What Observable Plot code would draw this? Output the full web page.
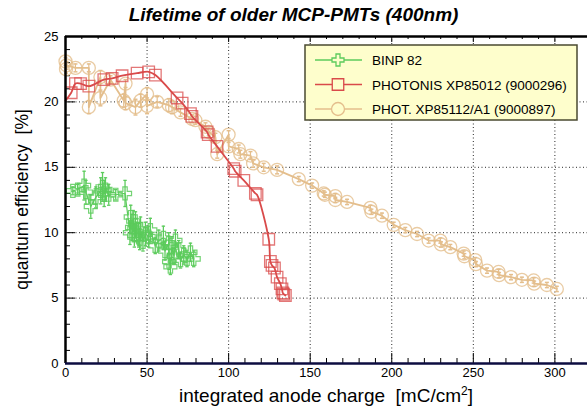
<!DOCTYPE html>
<html><head><meta charset="utf-8">
<script src="https://cdn.jsdelivr.net/npm/d3@7"></script>
<script src="https://cdn.jsdelivr.net/npm/@observablehq/plot@0.6"></script>
<style>body{margin:0;background:#fff}svg{display:block}</style>
</head><body><div id="chart"></div>
<script>
const titleText = "Lifetime of older MCP-PMTs (400nm)";
const xTitle = "integrated anode charge  [mC/cm";
const yTitle = "quantum efficiency  [%]";
const seriesNames = ["BINP 82", "PHOTONIS XP85012 (9000296)", "PHOT. XP85112/A1 (9000897)"];
const seriesColors = ["#5ccb5c", "#d94a4a", "#e4be8c"];

const xMajor = [0, 50, 100, 150, 200, 250, 300];
const xMinor = [10,20,30,40,60,70,80,90,110,120,130,140,160,170,180,190,210,220,230,240,260,270,280,290,310];
const yMajor = [0, 5, 10, 15, 20, 25];
const yMinor = [1,2,3,4,6,7,8,9,11,12,13,14,16,17,18,19,21,22,23,24];

const binpX = [4.5,7.5,11.4,12.5,15.5,18.6,21.6,22.7,23.7,24.5,26.5,30.8,36.5,39.5,40.0,40.8,41.5,42.2,42.9,43.5,44.9,45.5,46.0,47.5,49.0,51.0,52.0,55.0,57.2,60.0,61.0,63.3,63.5,64.3,65.3,66.5,67.4,69.4,70.5,72.5,74.5,76.6,78.6];
const binpY = [13.2,13.3,13.6,13.1,12.0,12.7,13.2,13.5,13.0,13.3,12.9,12.9,13.0,10.0,11.2,10.4,10.9,9.8,10.6,10.1,9.8,9.5,10.3,9.3,9.9,9.7,10.2,9.0,9.4,9.6,8.6,9.2,7.8,7.4,8.9,8.2,9.4,8.7,7.9,8.3,8.0,8.5,8.0];
const binpErr = [0.3,0.4,1.1,0.9,0.9,0.8,1.0,1.1,1.0,0.9,0.8,0.4,1.0,0.9,0.9,1.0,0.8,0.9,1.0,0.7,0.9,0.8,0.9,0.7,0.9,0.8,0.9,0.6,0.8,0.9,0.7,0.8,0.6,0.6,0.8,0.6,0.8,0.7,0.6,0.7,0.6,0.7,0.6];

const photX = [0,3.5,6.1,9.2,14.3,23.5,28.6,34.7,43.9,51.0,55.1,68.4,71.5,76.6,77.5,86.8,87.5,92.9,103.1,104.0,109.3,116.4,117.4,124.6,125.6,126.6,128.1,129.7,131.7,132.7,133.2,133.8,134.8];
const photY = [20.1,20.7,21.4,21.4,21.2,21.7,21.8,22.0,22.2,22.3,22.05,20.3,19.9,19.1,18.9,17.7,17.5,16.6,14.9,14.7,14.0,13.0,12.9,9.5,7.8,7.5,7.3,6.6,6.1,5.7,5.4,5.3,5.2];

const a1X = [0,0.3,0.6,6.1,14.3,14.3,21.4,21.4,27.6,35.7,36.8,36.8,42.9,46.0,50.0,50.0,56.2,63.3,65.3,70.5,77.6,79.6,85.8,87.8,91.9,93.0,100,100,106.2,107.2,113.4,115,121.5,129.7,143,151.2,158.3,159,165.4,165.4,172.6,186.9,187.5,194,201.2,208.3,215.5,222.6,229.8,230.2,235.9,244.1,244.5,251.2,251.6,258.4,265.5,265.8,273.1,279.8,287,287.3,295.1,301.2];
const a1Y = [23.1,22.5,22.8,22.6,22.6,19.6,21.9,20.3,21.7,20.1,21.4,19.9,19.6,20.1,20.6,19.7,20.0,19.75,19.6,19.2,18.7,18.6,18.1,17.7,17.3,16.0,17.5,16.6,16.4,16.0,15.9,15.3,15.0,14.8,14.1,13.6,13.0,12.9,12.8,12.5,12.35,11.9,11.6,11.3,10.6,10.2,9.9,9.4,9.4,9.1,8.9,8.4,8.2,7.9,7.6,7.1,7.0,6.75,6.6,6.4,6.35,6.1,6.0,5.7];
const a1Err = [0.3,0.3,0.3,0.3,0.3,0.5,0.5,0.6,0.3,0.5,0.3,0.5,0.6,0.5,0.5,0.6,0.4,0.5,0.5,0.3,0.3,0.3,0.3,0.3,0.3,0.3,0.3,0.3,0.3,0.3,0.3,0.3,0.3,0.3,0.2,0.2,0.2,0.2,0.2,0.2,0.2,0.2,0.2,0.2,0.2,0.2,0.2,0.2,0.2,0.2,0.2,0.2,0.2,0.2,0.2,0.2,0.2,0.2,0.2,0.2,0.2,0.2,0.2,0.2];

const binp = binpX.map((x,i)=>({x, y: binpY[i], e: binpErr[i]}));
const phot = photX.map((x,i)=>({x, y: photY[i]}));
const a1 = a1X.map((x,i)=>({x, y: a1Y[i], e: a1Err[i]}));

const openCross = {
  draw(ctx, size) {
    const r = Math.sqrt(size / Math.PI), w = r / 3;
    ctx.moveTo(-w, -r); ctx.lineTo(w, -r); ctx.lineTo(w, -w); ctx.lineTo(r, -w);
    ctx.lineTo(r, w); ctx.lineTo(w, w); ctx.lineTo(w, r); ctx.lineTo(-w, r);
    ctx.lineTo(-w, w); ctx.lineTo(-r, w); ctx.lineTo(-r, -w); ctx.lineTo(-w, -w); ctx.closePath();
  }
};
const hdash = { draw(ctx, size) { const r = Math.sqrt(size / Math.PI); ctx.moveTo(-r, 0); ctx.lineTo(r, 0); } };

const W = 587, H = 409, mL = 65, mR = 0, mT = 36, mB = 46;
const plotH = H - mT - mB, plotW = W - mL - mR;

const chart = Plot.plot({
  width: W, height: H,
  marginLeft: mL, marginRight: mR, marginTop: mT, marginBottom: mB,
  style: {fontFamily: "'Liberation Sans', Arial, sans-serif", fontSize: "13px", background: "#fff", color: "#000"},
  x: {domain: [0, 320]},
  y: {domain: [0, 25]},
  marks: [
    Plot.gridX(xMajor.filter(v => v > 0), {stroke: "#000", strokeOpacity: 0.85, strokeDasharray: "1,2.5"}),
    Plot.gridY(yMajor.filter(v => v > 0 && v < 25), {stroke: "#000", strokeOpacity: 0.85, strokeDasharray: "1,2.5"}),
    Plot.tickX(xMajor, {x: d => d, insetTop: plotH - 10, stroke: "#000"}),
    Plot.tickX(xMinor, {x: d => d, insetTop: plotH - 5, stroke: "#000"}),
    Plot.tickX(xMajor, {x: d => d, insetBottom: plotH - 6, stroke: "#000"}),
    Plot.tickX(xMinor, {x: d => d, insetBottom: plotH - 3, stroke: "#000"}),
    Plot.tickY(yMajor, {y: d => d, insetRight: plotW - 10, stroke: "#000"}),
    Plot.tickY(yMinor, {y: d => d, insetRight: plotW - 5, stroke: "#000"}),
    Plot.ruleX(a1, {x: "x", y1: d => d.y - d.e, y2: d => d.y + d.e, stroke: seriesColors[2], strokeWidth: 1.2}),
    Plot.dot(a1, {x: "x", y: d => d.y - d.e, symbol: hdash, r: 2, stroke: seriesColors[2]}),
    Plot.dot(a1, {x: "x", y: d => d.y + d.e, symbol: hdash, r: 2, stroke: seriesColors[2]}),
    Plot.line(a1, {x: "x", y: "y", stroke: seriesColors[2], strokeWidth: 1.8}),
    Plot.dot(a1, {x: "x", y: "y", r: 6.5, stroke: seriesColors[2], strokeWidth: 1.3, strokeOpacity: 0.8}),
    Plot.line(phot, {x: "x", y: "y", stroke: seriesColors[1], strokeWidth: 1.8, curve: "catmull-rom"}),
    Plot.dot(phot.filter(d => d.x > 0), {x: "x", y: "y", symbol: "square", r: 6.5, stroke: seriesColors[1], strokeWidth: 1.3, strokeOpacity: 0.75}),
    Plot.ruleX(binp, {x: "x", y1: d => d.y - d.e, y2: d => d.y + d.e, stroke: seriesColors[0], strokeWidth: 1.3}),
    Plot.dot(binp, {x: "x", y: d => d.y - d.e, symbol: hdash, r: 1.7, stroke: seriesColors[0], strokeWidth: 1.3}),
    Plot.dot(binp, {x: "x", y: d => d.y + d.e, symbol: hdash, r: 1.7, stroke: seriesColors[0], strokeWidth: 1.3}),
    Plot.line(binp, {x: "x", y: "y", stroke: seriesColors[0], strokeWidth: 1.2}),
    Plot.dot(binp, {x: "x", y: "y", symbol: openCross, r: 6.5, stroke: seriesColors[0], strokeWidth: 1.2, strokeOpacity: 0.85}),
    Plot.ruleX([0], {stroke: "#000", strokeWidth: 2.5}),
    Plot.ruleY([25], {stroke: "#000", strokeWidth: 2.5}),
    Plot.ruleY([0], {stroke: "#0c0c40", strokeWidth: 2.5}),
    Plot.axisX(xMajor, {tickSize: 0, tickPadding: 4, fontSize: 13, label: null}),
    Plot.axisY(yMajor, {tickSize: 0, tickPadding: 7, fontSize: 13, label: null})
  ]
});
document.getElementById("chart").appendChild(chart);

const svg = d3.select(chart);
svg.append("text").attr("x", W/2).attr("y", 21).attr("text-anchor", "middle")
  .style("font", "italic bold 19px 'Liberation Sans', Arial, sans-serif").text(titleText);
const xt = svg.append("text").attr("x", mL + plotW/2).attr("y", 402).attr("text-anchor", "middle")
  .style("font", "19px 'Liberation Sans', Arial, sans-serif");
xt.append("tspan").text(xTitle);
xt.append("tspan").attr("dy", -7).style("font-size", "12px").text("2");
xt.append("tspan").attr("dy", 7).text("]");
svg.append("text").attr("transform", `translate(28,${mT + plotH/2}) rotate(-90)`).attr("text-anchor", "middle")
  .style("font", "17.5px 'Liberation Sans', Arial, sans-serif").text(yTitle);

const lg = svg.append("g");
lg.append("rect").attr("x", 305).attr("y", 45).attr("width", 272).attr("height", 75)
  .attr("fill", "#fefecc").attr("stroke", "#4a4a30").attr("stroke-width", 1.5);
const legendSymbols = [d3.symbol(openCross, Math.PI*36), d3.symbol(d3.symbolSquare, Math.PI*42), d3.symbol(d3.symbolCircle, Math.PI*42)];
seriesNames.forEach((name, i) => {
  const y = 60 + i * 24.5;
  lg.append("line").attr("x1", 315).attr("x2", 362).attr("y1", y).attr("y2", y)
    .attr("stroke", seriesColors[i]).attr("stroke-width", 1.5);
  lg.append("path").attr("d", legendSymbols[i]()).attr("transform", `translate(338,${y})`)
    .attr("fill", "#fefecc").attr("stroke", seriesColors[i]).attr("stroke-width", 1.3);
  lg.append("text").attr("x", 372).attr("y", y + 5).attr("text-anchor", "start")
    .style("font", "13.5px 'Liberation Sans', Arial, sans-serif").text(name);
});
</script></body></html>
